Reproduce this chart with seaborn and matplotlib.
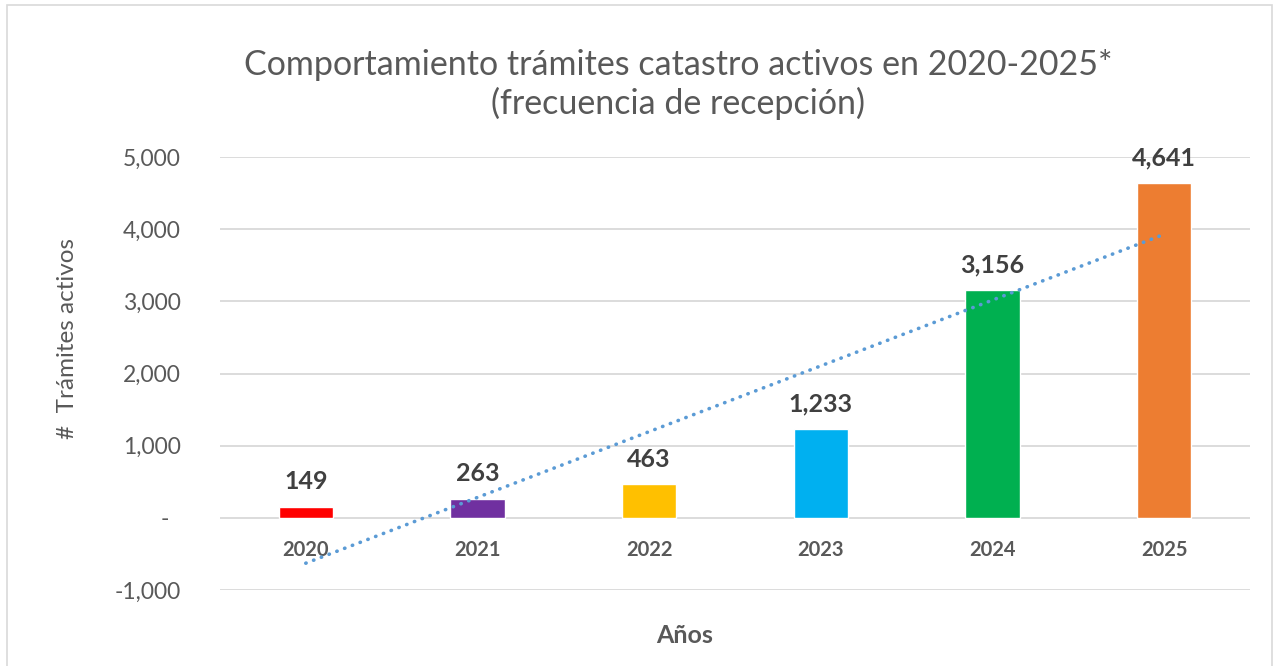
"""Comportamiento de trámites de catastro activos 2020-2025."""

import matplotlib
matplotlib.use("Agg")

import matplotlib.pyplot as plt
import numpy as np
import pandas as pd
import seaborn as sns
from matplotlib.patches import Rectangle
from matplotlib.ticker import FuncFormatter

# datos
anios = ["2020", "2021", "2022", "2023", "2024", "2025"]
tramites = [149, 263, 463, 1233, 3156, 4641]
colores = ["#FF0000", "#7030A0", "#FFC000", "#00B0F0", "#00B050", "#ED7D31"]

GRIS = "#595959"

sns.set_theme(style="white")
plt.rcParams["font.family"] = ["Lato", "DejaVu Sans"]

df = pd.DataFrame({"anio": anios, "tramites": tramites, "pos": np.arange(len(anios))})

fig = plt.figure(figsize=(12.78, 6.66), dpi=100)
ax = fig.add_axes([0.1721, 0.1141, 0.806, 0.650])

sns.barplot(data=df, x="anio", y="tramites", hue="anio", palette=colores,
            width=0.315, legend=False, ax=ax, saturation=1)

# línea de tendencia lineal (como en Excel)
sns.regplot(data=df, x="pos", y="tramites", scatter=False, ci=None, ax=ax,
            line_kws={"color": "#5B9BD5", "linestyle": (0, (0.1, 2.2)),
                      "linewidth": 2.6, "dash_capstyle": "round"})

# etiquetas de datos
for i, v in enumerate(tramites):
    ax.annotate(f"{v:,}", (i, v), xytext=(0, 10), textcoords="offset points",
                ha="center", va="bottom", fontsize=18, fontweight="bold",
                color="#404040")

ax.set_xlim(-0.5, len(anios) - 0.5)
ax.set_ylim(-1000, 5000)
ax.set_yticks(range(-1000, 5001, 1000))
ax.yaxis.set_major_formatter(FuncFormatter(lambda v, _: "-  " if v == 0 else f"{v:,.0f}"))
ax.grid(axis="y", color="#D9D9D9", linewidth=1.3)
ax.set_axisbelow(True)

for s in ["top", "right", "left"]:
    ax.spines[s].set_visible(False)
ax.spines["bottom"].set_position(("data", 0))
ax.spines["bottom"].set_visible(False)

ax.tick_params(axis="y", length=0, pad=28, labelsize=16.5, labelcolor=GRIS)
ax.tick_params(axis="x", length=0, pad=16, labelsize=14.5, labelcolor=GRIS)
for lbl in ax.get_xticklabels():
    lbl.set_fontweight("bold")

ax.set_xlabel("")
ax.set_ylabel("#  Trámites activos", fontsize=17.5, color=GRIS)
ax.yaxis.set_label_coords(-0.138, 0.58)
fig.text(0.5353, 0.046, "Años", ha="center", va="center", fontsize=18,
         fontweight="bold", color=GRIS)

fig.text(0.5305, 0.902, "Comportamiento trámites catastro activos en 2020-2025*",
         ha="center", va="center", fontsize=24.5, color=GRIS)
fig.text(0.5305, 0.845, "(frecuencia de recepción)", ha="center", va="center",
         fontsize=24.5, color=GRIS)

# borde del área del gráfico
fig.patches.append(Rectangle((0.0055, -0.01), 0.99, 1.002, transform=fig.transFigure,
                             fill=False, edgecolor="#D9D9D9", linewidth=1.2))

fig.savefig("out.png", dpi=100)
plt.close(fig)
